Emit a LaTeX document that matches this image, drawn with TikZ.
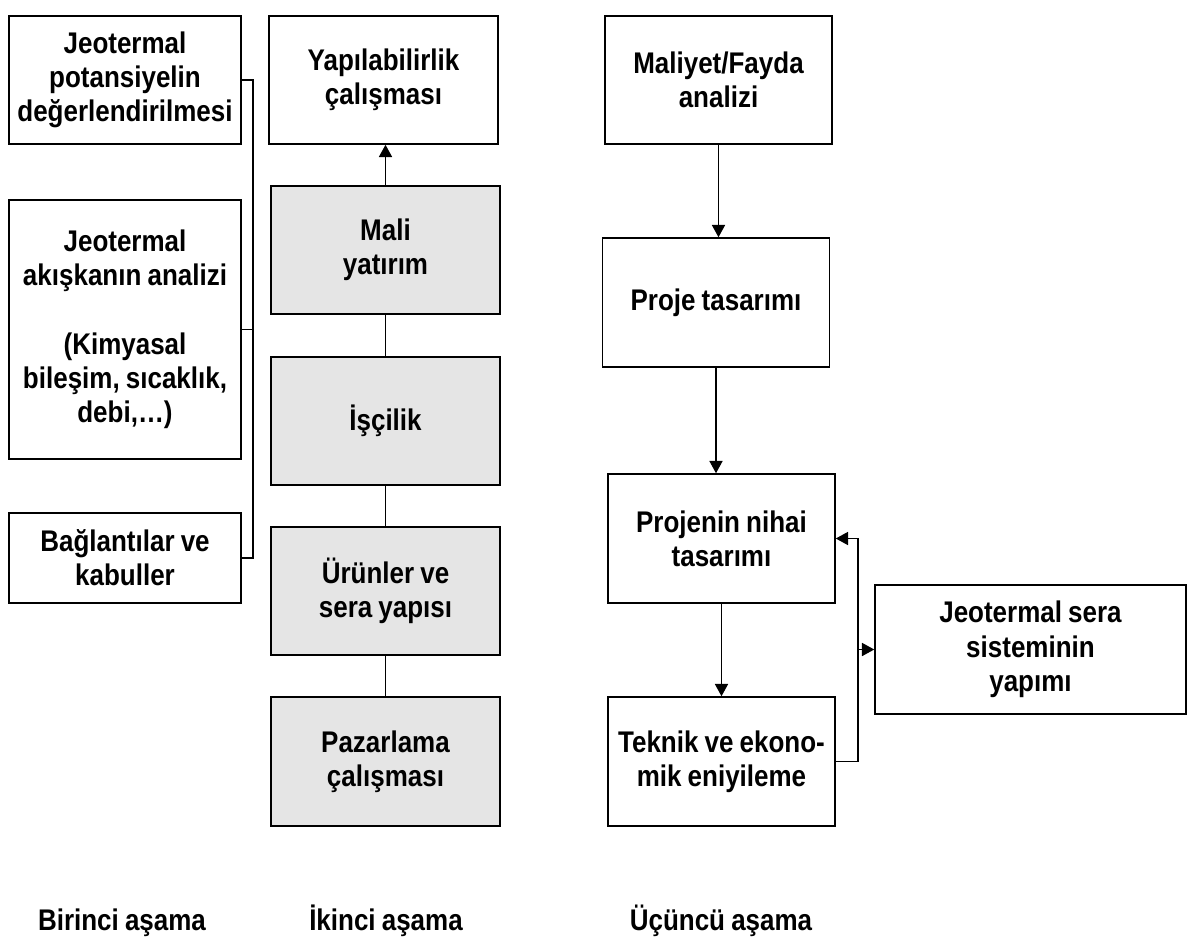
\documentclass[tikz,border=0pt]{standalone}
\usepackage{fontspec}
\setmainfont{Liberation Sans}[FakeStretch=0.87,WordSpace=0.85]
\usetikzlibrary{arrows.meta}

\begin{document}
\begin{tikzpicture}[x=0.02cm,y=-0.02cm,>={Triangle[length=7pt,width=7.5pt]},
    line width=0.65pt,font=\fontsize{17}{19.5}\selectfont\bfseries,
    box/.style={draw,line width=0.9pt,align=flush center,inner sep=2pt,minimum height=2.56cm},
    lbox/.style={box,minimum width=4.64cm,text width=4.5cm},
    mbox/.style={box,minimum width=4.58cm,text width=4.4cm},
    gbox/.style={mbox,fill=gray!20},
    rbox/.style={box,minimum width=4.54cm,text width=4.4cm,minimum height=2.58cm},
    stage/.style={inner sep=0pt,anchor=base}]
  \useasboundingbox (0,0) rectangle (1188,941);
  % birinci asama
  \node[lbox] (pot) at (125,80) {Jeotermal\\potansiyelin\\değerlendirilmesi};
  \node[lbox,minimum height=5.18cm] (akis) at (125,329.5)
    {Jeotermal\\akışkanın analizi\\[19.5pt](Kimyasal\\bileşim, sıcaklık,\\debi,…)};
  \node[lbox,minimum height=1.8cm] (bag) at (125,558) {Bağlantılar ve\\kabuller};
  \coordinate (lbr) at (253,0);
  \draw (pot.east) -- (pot.east -| lbr) |- (bag.east);
  \draw (akis.east) -- (akis.east -| lbr);
  % ikinci asama
  \node[mbox] (yap) at (383.5,80) {Yapılabilirlik\\çalışması};
  \node[gbox] (mali) at (385.5,250) {Mali\\yatırım};
  \node[gbox] (isc) at (385.5,421) {İşçilik};
  \node[gbox] (urun) at (385.5,591) {Ürünler ve\\sera yapısı};
  \node[gbox,minimum height=2.58cm] (paz) at (385.5,761.5) {Pazarlama\\çalışması};
  \draw[->] (mali.north) -- (mali.north |- yap.south);
  \draw (mali) -- (isc) (isc) -- (urun) (urun) -- (paz);
  % ucuncu asama
  \node[rbox,minimum height=2.56cm] (mf) at (718.5,80) {Maliyet/Fayda\\analizi};
  \node[rbox] (pt) at (716,302.5) {Proje tasarımı};
  \node[rbox] (pn) at (721.5,538.5) {Projenin nihai\\tasarımı};
  \node[rbox] (te) at (721.5,761.5) {Teknik ve ekono-\\mik eniyileme};
  \node[rbox,minimum width=6.22cm,text width=6cm] (js) at (1030.5,649.5)
    {Jeotermal sera\\sisteminin\\yapımı};
  \draw[->] (mf.south) -- (mf.south |- pt.north);
  \draw[->] (pt.south) -- (pt.south |- pn.north);
  \draw[->] (pn) -- (te);
  \coordinate (fb) at (858,0);
  \draw[->] (te.east) -- (te.east -| fb) |- (pn.east);
  \draw[->] (js.west -| fb) -- (js.west);
  % asamalar
  \node[stage] (s1) at (122,930) {Birinci aşama};
  \node[stage] (s2) at (386,930) {İkinci aşama};
  \node[stage] (s3) at (721,930) {Üçüncü aşama};
\end{tikzpicture}
\end{document}
